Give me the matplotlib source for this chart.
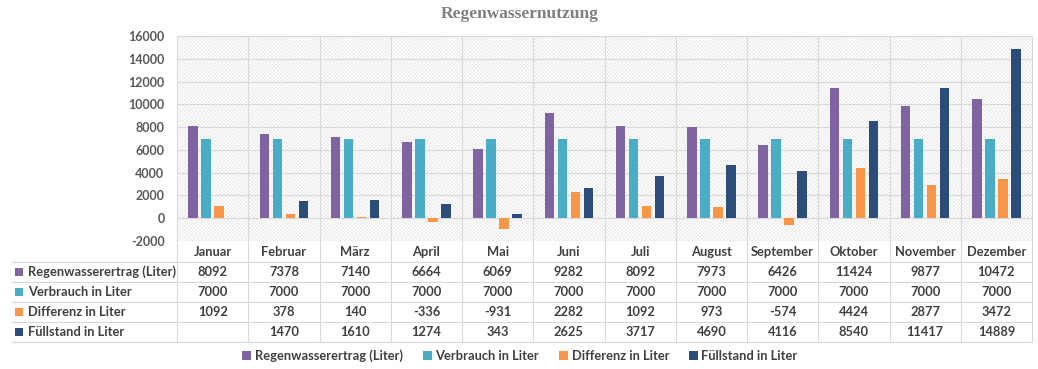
import numpy as np
import matplotlib.pyplot as plt
from matplotlib.patches import Rectangle
from matplotlib.lines import Line2D
import matplotlib.transforms as mtransforms

# data
months = ["Januar", "Februar", "März", "April", "Mai", "Juni", "Juli",
          "August", "September", "Oktober", "November", "Dezember"]
ertrag = [8092, 7378, 7140, 6664, 6069, 9282, 8092, 7973, 6426, 11424, 9877, 10472]
verbrauch = [7000] * 12
differenz = [1092, 378, 140, -336, -931, 2282, 1092, 973, -574, 4424, 2877, 3472]
fuellstand = [None, 1470, 1610, 1274, 343, 2625, 3717, 4690, 4116, 8540, 11417, 14889]

series_names = ["Regenwasserertrag (Liter)", "Verbrauch in Liter",
                "Differenz in Liter", "Füllstand in Liter"]
series_vals = [ertrag, verbrauch, differenz, fuellstand]
colors = ["#8064A2", "#4BACC6", "#F79646", "#2C4D7A"]

W, H = 1038, 369
plt.rcParams['font.family'] = ['Lato', 'DejaVu Sans']
plt.rcParams['hatch.linewidth'] = 0.3
plt.rcParams['hatch.color'] = '#e0e0e0'

fig = plt.figure(figsize=(W / 100, H / 100), dpi=100)

def fx(px):
    return px / W

def fy(py):
    return 1 - py / H

ax_l, ax_r, ax_t, ax_b = 177, 1032, 36, 241
ax = fig.add_axes([fx(ax_l), fy(ax_b), fx(ax_r - ax_l), fy(ax_t) - fy(ax_b)])

# hatched background
ax.add_patch(Rectangle((0, 0), 1, 1, transform=ax.transAxes, facecolor='white',
                       hatch='xxxxxxxxx', edgecolor='#e0e0e0', linewidth=0, zorder=0))

x = np.arange(len(months))
width = 0.135
step = 0.183
for i, (name, vals, c) in enumerate(zip(series_names, series_vals, colors)):
    v = np.array([np.nan if val is None else val for val in vals], dtype=float)
    ax.bar(x + (i - 1.5) * step, v, width=width, color=c, label=name, zorder=3)

ax.set_xlim(-0.5, len(months) - 0.5)
ax.set_ylim(-2000, 16000)
ax.set_yticks(np.arange(-2000, 16001, 2000))
ax.set_yticklabels([str(t) for t in range(-2000, 16001, 2000)])
ax.tick_params(axis='y', length=0, pad=9, labelsize=9, labelcolor='#595959')
for lab in ax.get_yticklabels():
    lab.set_fontweight('bold')
ax.set_xticks([])
ax.grid(axis='y', color='#d9d9d9', linewidth=0.8, zorder=1)
ax.set_axisbelow(True)
for s in ax.spines.values():
    s.set_visible(False)

# table below the plot
trans = mtransforms.blended_transform_factory(ax.transData, fig.transFigure)
grid_c = '#d9d9d9'
table_bottom = 342
for b in np.arange(-0.5, len(months), 1.0):
    fig.add_artist(Line2D([b, b], [fy(ax_t), fy(table_bottom)], transform=trans,
                          color=grid_c, linewidth=0.8))
for py in [262, 282, 302, 322, 342]:
    fig.add_artist(Line2D([fx(12), fx(ax_r)], [fy(py), fy(py)],
                          transform=fig.transFigure, color=grid_c, linewidth=0.8))

txt_c = '#404040'
fs = 9.3
for j, m in enumerate(months):
    fig.text(j, fy(252), m, transform=trans, ha='center', va='center',
             fontsize=fs, fontweight='bold', color=txt_c)

row_y = [272, 292, 312, 332]
for r, (name, vals, c) in enumerate(zip(series_names, series_vals, colors)):
    yy = row_y[r]
    fig.add_artist(Rectangle((fx(15), fy(yy + 4)), fx(8), fy(yy - 4) - fy(yy + 4),
                             transform=fig.transFigure, facecolor=c, edgecolor='none'))
    fig.text(fx(28), fy(yy), name, ha='left', va='center', fontsize=fs,
             fontweight='bold', color=txt_c)
    for j, val in enumerate(vals):
        if val is None:
            continue
        fig.text(j, fy(yy), str(val), transform=trans, ha='center', va='center',
                 fontsize=fs, fontweight='bold', color=txt_c)

# title
fig.text(fx(520), fy(14), "Regenwassernutzung", ha='center', va='center',
         fontsize=12.5, fontweight='bold', color='#7f7f7f',
         family=['Liberation Serif', 'DejaVu Serif'])

# legend
handles = [Rectangle((0, 0), 1, 1, facecolor=c, edgecolor='none') for c in colors]
leg = fig.legend(handles, series_names, loc='center', bbox_to_anchor=(fx(520), fy(356)),
                 ncol=4, frameon=False, fontsize=fs, handlelength=0.7, handleheight=0.7,
                 handletextpad=0.3, columnspacing=1.5)
for t in leg.get_texts():
    t.set_fontweight('bold')
    t.set_color(txt_c)

fig.savefig("out.png", dpi=100)
